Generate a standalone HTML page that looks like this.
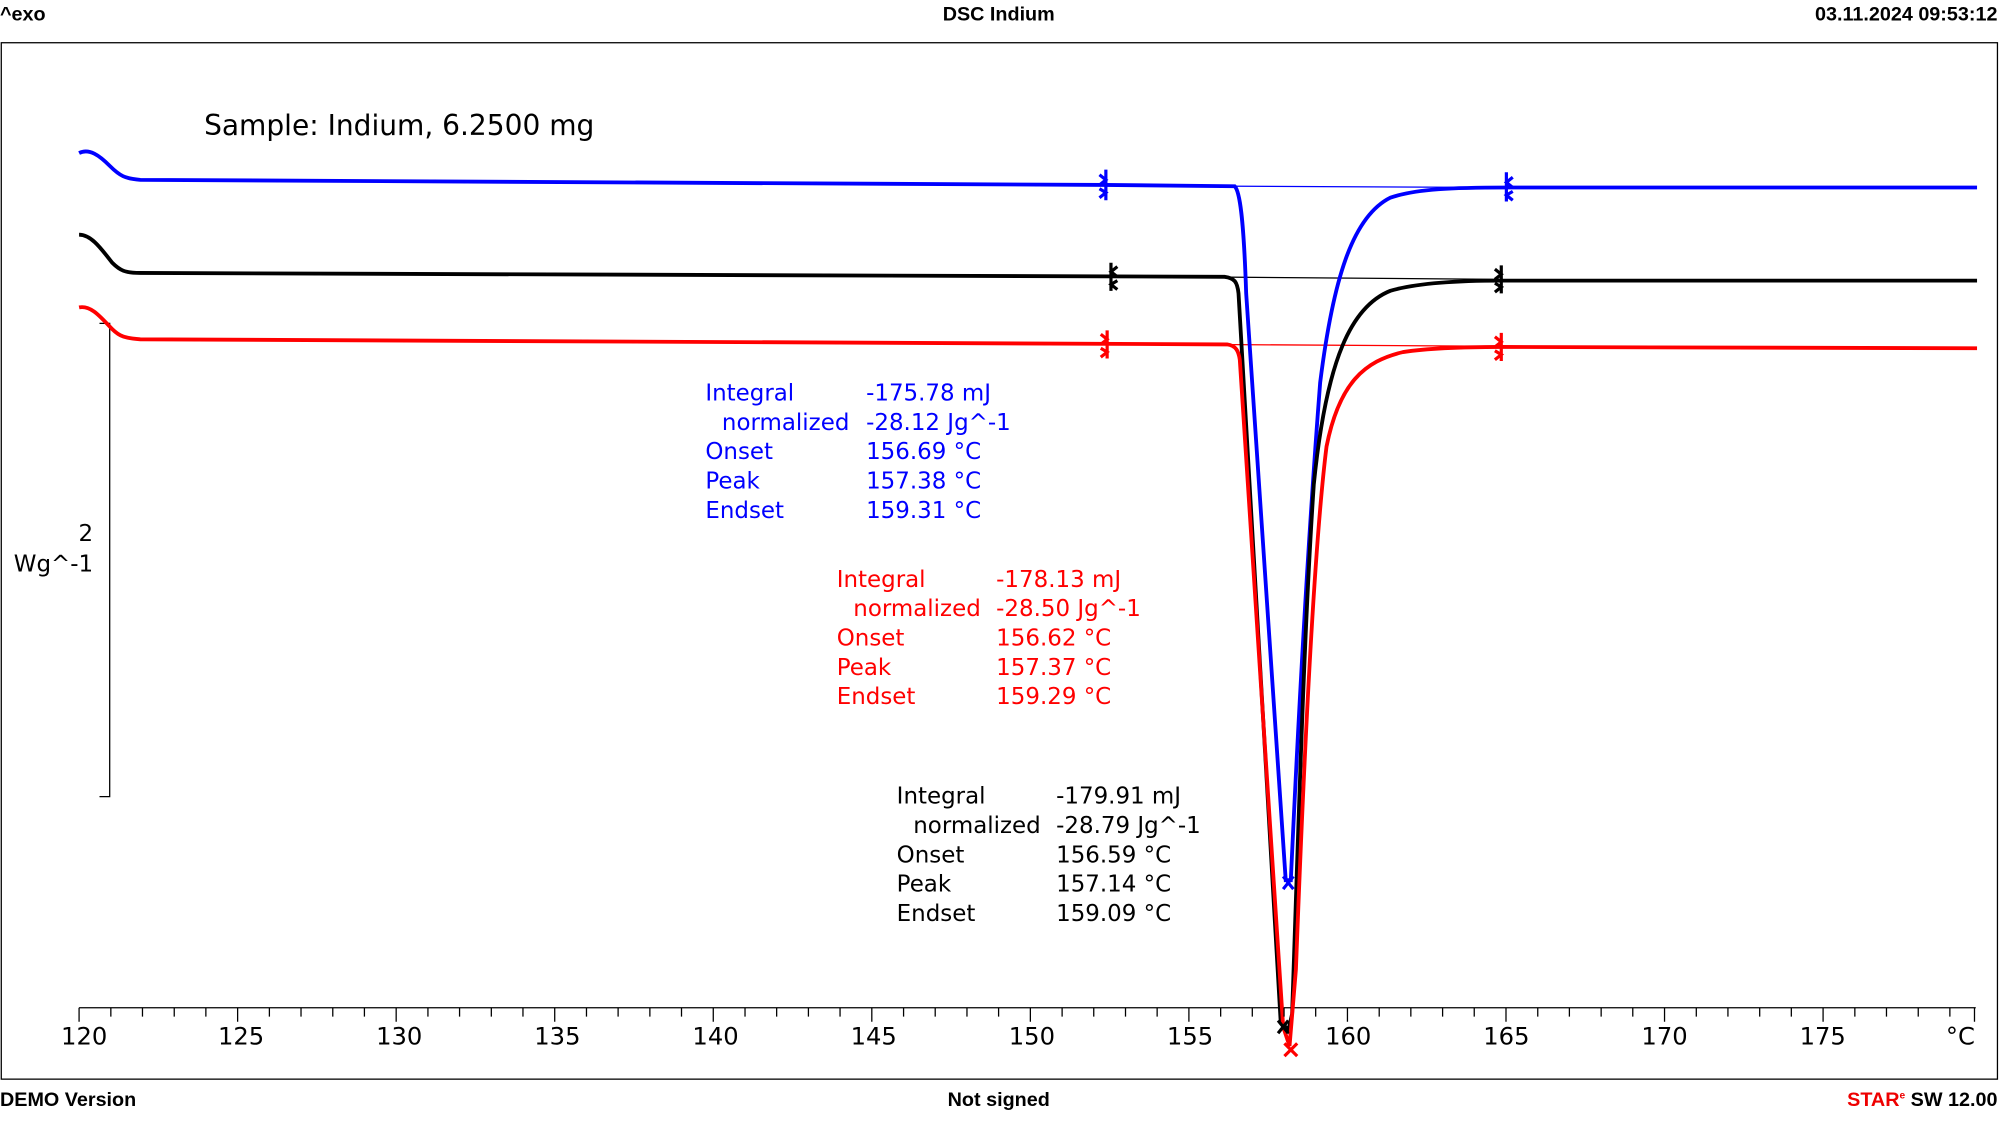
<!DOCTYPE html>
<html><head><meta charset="utf-8"><style>
html,body{margin:0;padding:0;background:#fff;}
svg{display:block;}
text{font-family:"DejaVu Sans","Liberation Sans",sans-serif;}
.h{font-family:"Liberation Sans",sans-serif;font-weight:bold;}
</style></head><body>
<svg width="2000" height="1122" viewBox="0 0 1568 879.6" preserveAspectRatio="none" xmlns="http://www.w3.org/2000/svg">
<text class="h" x="0" y="16" font-size="15.5">^exo</text>
<text class="h" x="783" y="16" font-size="15.5" text-anchor="middle">DSC Indium</text>
<text class="h" x="1566" y="16" font-size="15.5" text-anchor="end">03.11.2024 09:53:12</text>
<rect x="1" y="33.5" width="1565" height="812.5" fill="none" stroke="#000" stroke-width="1"/>
<text class="h" x="0" y="867" font-size="15.5">DEMO Version</text>
<text class="h" x="783" y="867" font-size="15.5" text-anchor="middle">Not signed</text>
<text class="h" x="1566" y="867" font-size="15.5" text-anchor="end"><tspan fill="#e00">STAR</tspan><tspan fill="#e00" font-size="8" dy="-6">e</tspan><tspan dy="6"> SW 12.00</tspan></text>
<text x="160" y="106" font-size="22">Sample: Indium, 6.2500 mg</text>
<path d="M78 253.5H86V624.5H78" fill="none" stroke="#000" stroke-width="1"/>
<text x="73" y="424" font-size="18" text-anchor="end">2</text>
<text x="73" y="448" font-size="18" text-anchor="end">Wg^-1</text>
<line x1="62" y1="790" x2="1549" y2="790" stroke="#000" stroke-width="1"/>
<g font-size="19" text-anchor="middle" font-family="Liberation Sans">
<text x="66" y="819">120</text><text x="189" y="819">125</text><text x="313" y="819">130</text><text x="437" y="819">135</text><text x="561" y="819">140</text><text x="685" y="819">145</text><text x="809" y="819">150</text><text x="933" y="819">155</text><text x="1057" y="819">160</text><text x="1181" y="819">165</text><text x="1305" y="819">170</text><text x="1429" y="819">175</text><text x="1537" y="819">°C</text>
</g>
<line x1="868" y1="145.5" x2="1181" y2="147" stroke="#00f" stroke-width="1"/>
<line x1="871" y1="216.5" x2="1177" y2="219" stroke="#000" stroke-width="1"/>
<line x1="868" y1="269.5" x2="1177" y2="271.5" stroke="#f00" stroke-width="1"/>
<path d="M62 120C70 116 78 122 86 130C94 138 98 140 110 141C200 143 500 144 866 145L968 146C972 150 975 170 977 230L1008 690L1012 690C1018 560 1025 430 1035 300C1045 220 1060 170 1090 155C1110 148 1140 147 1181 147L1550 147" fill="none" stroke="#00f" stroke-width="3"/>
<path d="M62 184C72 184 80 196 88 206C94 212 98 214 110 214C300 215 600 216 960 217C968 218 970 221 971 230L1004 800L1010 808L1013 795C1018 650 1022 500 1030 380C1040 280 1060 240 1090 228C1110 222 1140 220 1177 220L1550 220" fill="none" stroke="#000" stroke-width="3"/>
<path d="M62 241C72 239 80 250 88 258C94 264 98 265 110 266C300 268 600 269 962 270C969 271 971 275 972 282L1006 805L1011 820L1016 760C1022 600 1030 430 1040 350C1050 300 1070 283 1100 276C1120 273 1150 272 1177 272L1550 273" fill="none" stroke="#f00" stroke-width="3"/>
<g fill="none" stroke-width="2.5">
<path d="M867 133V157M862 137L867 141L862 145M862 148L867 151L862 155" stroke="#00f"/>
<path d="M1181 135V158M1186 139L1181 143L1186 147M1186 150L1181 153L1186 157" stroke="#00f"/>
<path d="M871 206V228M876 209L871 213L876 217M876 220L871 223L876 227" stroke="#000"/>
<path d="M1177 208V230M1172 211L1177 215L1172 219M1172 222L1177 225L1172 229" stroke="#000"/>
<path d="M868 259V281M863 262L868 266L863 270M863 273L868 276L863 280" stroke="#f00"/>
<path d="M1177 261V283M1172 264L1177 268L1172 272M1172 275L1177 278L1172 282" stroke="#f00"/>
<path d="M1006 687L1014 697M1014 687L1006 697" stroke="#00f"/>
<path d="M1002 800L1010 810M1010 800L1002 810" stroke="#000"/>
<path d="M1007 818L1017 828M1017 818L1007 828" stroke="#f00"/>
</g>
<g font-size="18" fill="#00f">
<text x="553" y="314">Integral</text><text x="679" y="314">-175.78 mJ</text>
<text x="566" y="337">normalized</text><text x="679" y="337">-28.12 Jg^-1</text>
<text x="553" y="360">Onset</text><text x="679" y="360">156.69 °C</text>
<text x="553" y="383">Peak</text><text x="679" y="383">157.38 °C</text>
<text x="553" y="406">Endset</text><text x="679" y="406">159.31 °C</text>
</g>
<g font-size="18" fill="#f00">
<text x="656" y="460">Integral</text><text x="781" y="460">-178.13 mJ</text>
<text x="669" y="483">normalized</text><text x="781" y="483">-28.50 Jg^-1</text>
<text x="656" y="506">Onset</text><text x="781" y="506">156.62 °C</text>
<text x="656" y="529">Peak</text><text x="781" y="529">157.37 °C</text>
<text x="656" y="552">Endset</text><text x="781" y="552">159.29 °C</text>
</g>
<g font-size="18" fill="#000">
<text x="703" y="630">Integral</text><text x="828" y="630">-179.91 mJ</text>
<text x="716" y="653">normalized</text><text x="828" y="653">-28.79 Jg^-1</text>
<text x="703" y="676">Onset</text><text x="828" y="676">156.59 °C</text>
<text x="703" y="699">Peak</text><text x="828" y="699">157.14 °C</text>
<text x="703" y="722">Endset</text><text x="828" y="722">159.09 °C</text>
</g>
<g stroke="#000" stroke-width="1">
<path d="M62 790V801M86.9 790V797M111.7 790V797M136.6 790V797M161.4 790V797M186.3 790V801M211.2 790V797M236 790V797M260.9 790V797M285.7 790V797M310.6 790V801M335.5 790V797M360.3 790V797M385.2 790V797M410 790V797M434.9 790V801M459.8 790V797M484.6 790V797M509.5 790V797M534.3 790V797M559.2 790V801M584.1 790V797M608.9 790V797M633.8 790V797M658.6 790V797M683.5 790V801M708.4 790V797M733.2 790V797M758.1 790V797M782.9 790V797M807.8 790V801M832.7 790V797M857.5 790V797M882.4 790V797M907.2 790V797M932.1 790V801M957 790V797M981.8 790V797M1006.7 790V797M1031.5 790V797M1056.4 790V801M1081.3 790V797M1106.1 790V797M1131 790V797M1155.8 790V797M1180.7 790V801M1205.6 790V797M1230.4 790V797M1255.3 790V797M1280.1 790V797M1305 790V801M1329.9 790V797M1354.7 790V797M1379.6 790V797M1404.4 790V797M1429.3 790V801M1454.2 790V797M1479 790V797M1503.9 790V797M1528.7 790V797M1548 790V801"/>
</g>
</svg>
</body></html>
